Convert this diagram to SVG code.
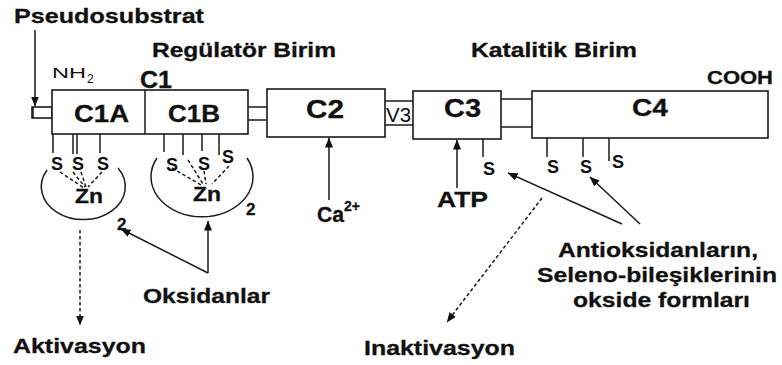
<svg xmlns="http://www.w3.org/2000/svg" width="782" height="365" viewBox="0 0 782 365">
<defs>
<marker id="ah" viewBox="0 0 10 8" refX="9.5" refY="4" markerWidth="10" markerHeight="8" markerUnits="userSpaceOnUse" orient="auto">
<path d="M0,0 L10,4 L0,8 Z" fill="#111"/>
</marker>
<style>
.b{fill:#fff;stroke:#1a1a1a;stroke-width:1.6}
.l{fill:none;stroke:#1a1a1a;stroke-width:1.5}
.d{fill:none;stroke:#1a1a1a;stroke-width:1.5;stroke-dasharray:3.5 2.5}
.t{font-family:"Liberation Sans",Arial,sans-serif;font-weight:bold;fill:#111;stroke:#111;stroke-width:0.3}
.n{font-family:"Liberation Sans",Arial,sans-serif;fill:#111}
.s{font-family:"Liberation Sans",Arial,sans-serif;font-weight:bold;fill:#111;font-size:18px}
</style>
</defs>
<rect width="782" height="365" fill="#fff"/>

<g id="labels">
<text class="t" x="14" y="23" font-size="21" textLength="190" lengthAdjust="spacingAndGlyphs">Pseudosubstrat</text>
<text class="t" x="152" y="57" font-size="20" textLength="184" lengthAdjust="spacingAndGlyphs">Regülatör Birim</text>
<text class="t" x="471" y="57" font-size="20" textLength="166" lengthAdjust="spacingAndGlyphs">Katalitik Birim</text>
<text class="n" x="52" y="78" font-size="15" textLength="34" lengthAdjust="spacingAndGlyphs">NH</text>
<text class="n" x="87" y="83" font-size="12">2</text>
<text class="t" x="140" y="88" font-size="23" textLength="32" lengthAdjust="spacingAndGlyphs">C1</text>
<text class="t" x="707" y="84" font-size="18" textLength="66" lengthAdjust="spacingAndGlyphs">COOH</text>
</g>

<g id="connectors">
<line class="l" x1="248" y1="107" x2="268" y2="107"/>
<line class="l" x1="248" y1="120" x2="268" y2="120"/>
<line class="l" x1="385" y1="101" x2="413" y2="101"/>
<line class="l" x1="385" y1="125" x2="413" y2="125"/>
<line class="l" x1="501" y1="99" x2="532" y2="99"/>
<line class="l" x1="501" y1="127" x2="532" y2="127"/>
<line class="l" x1="35" y1="30" x2="35" y2="106" marker-end="url(#ah)"/>
<line class="l" x1="329" y1="200" x2="329" y2="138" marker-end="url(#ah)"/>
<line class="l" x1="457" y1="188" x2="457" y2="140" marker-end="url(#ah)"/>
<line class="l" x1="208" y1="273" x2="208" y2="221" marker-end="url(#ah)"/>
<line class="l" x1="208" y1="273" x2="121" y2="229" marker-end="url(#ah)"/>
<line class="l" x1="622" y1="224" x2="508" y2="173" marker-end="url(#ah)"/>
<line class="l" x1="640" y1="224" x2="590" y2="177" marker-end="url(#ah)"/>
<line class="d" x1="80" y1="230" x2="80" y2="325" marker-end="url(#ah)"/>
<line class="d" x1="542" y1="198" x2="447" y2="322" marker-end="url(#ah)"/>
</g>

<g id="pseudosubstrate">
<rect class="b" x="32" y="107" width="20" height="11"/>
<line class="l" x1="33" y1="107" x2="33" y2="118" stroke-width="3"/>
</g>

<g id="C1">
<rect class="b" x="52" y="90" width="196" height="44"/>
<line class="l" x1="145" y1="90" x2="145" y2="134"/>
<text class="t" x="74" y="122" font-size="23" textLength="55" lengthAdjust="spacingAndGlyphs">C1A</text>
<text class="t" x="168" y="122" font-size="23" textLength="52" lengthAdjust="spacingAndGlyphs">C1B</text>
</g>

<g id="zn1">
<line class="l" x1="53" y1="134" x2="53" y2="153"/>
<line class="l" x1="73" y1="134" x2="73" y2="154"/>
<line class="l" x1="77" y1="134" x2="77" y2="154"/>
<line class="l" x1="100" y1="134" x2="100" y2="153"/>
<text class="s" x="51" y="170">S</text>
<text class="s" x="72" y="170">S</text>
<text class="s" x="97" y="170">S</text>
<line class="d" x1="60" y1="172" x2="84" y2="188"/>
<line class="d" x1="73" y1="172" x2="85" y2="187"/>
<line class="d" x1="81" y1="172" x2="86" y2="187"/>
<line class="d" x1="102" y1="172" x2="88" y2="187"/>
<text class="t" x="75" y="203" font-size="20" textLength="28" lengthAdjust="spacingAndGlyphs">Zn</text>
<path class="l" d="M47,170 A42,33 0 1 0 118,168"/>
<text class="t" x="117" y="230" font-size="17">2</text>
</g>

<g id="zn2">
<line class="l" x1="164" y1="134" x2="164" y2="152"/>
<line class="l" x1="183" y1="134" x2="183" y2="155"/>
<line class="l" x1="202" y1="134" x2="202" y2="151"/>
<line class="l" x1="219" y1="134" x2="219" y2="155"/>
<text class="s" x="166" y="171">S</text>
<text class="s" x="198" y="170">S</text>
<text class="s" x="222" y="163">S</text>
<line class="d" x1="172" y1="168" x2="201" y2="185"/>
<line class="d" x1="188" y1="160" x2="203" y2="184"/>
<line class="d" x1="204" y1="171" x2="206" y2="184"/>
<line class="d" x1="229" y1="166" x2="212" y2="184"/>
<text class="t" x="193" y="201" font-size="20" textLength="28" lengthAdjust="spacingAndGlyphs">Zn</text>
<path class="l" d="M157,158 A51,40 0 1 0 247,158"/>
<text class="t" x="246" y="215" font-size="17">2</text>
</g>

<g id="C2">
<rect class="b" x="267" y="89" width="118" height="48"/>
<text class="t" x="306" y="118" font-size="26" textLength="38" lengthAdjust="spacingAndGlyphs">C2</text>
</g>

<g id="V3">
<text class="n" x="386" y="122" font-size="20" textLength="25" lengthAdjust="spacingAndGlyphs">V3</text>
</g>

<g id="C3">
<rect class="b" x="413" y="91" width="88" height="48"/>
<text class="t" x="444" y="117" font-size="25" textLength="37" lengthAdjust="spacingAndGlyphs">C3</text>
<line class="l" x1="483" y1="139" x2="483" y2="157"/>
<text class="s" x="483" y="175">S</text>
</g>

<g id="C4">
<rect class="b" x="532" y="91" width="236" height="47"/>
<text class="t" x="632" y="116" font-size="24" textLength="36" lengthAdjust="spacingAndGlyphs">C4</text>
<line class="l" x1="547" y1="138" x2="547" y2="157"/>
<line class="l" x1="583" y1="138" x2="583" y2="157"/>
<line class="l" x1="609" y1="138" x2="609" y2="161"/>
<text class="s" x="547" y="173">S</text>
<text class="s" x="580" y="173">S</text>
<text class="s" x="612" y="168">S</text>
</g>

<g id="ca">
<text class="t" x="317" y="222" font-size="22" textLength="27" lengthAdjust="spacingAndGlyphs">Ca</text>
<text class="t" x="344" y="211" font-size="14">2+</text>
</g>

<g id="atp">
<text class="t" x="437" y="207" font-size="22" textLength="51" lengthAdjust="spacingAndGlyphs">ATP</text>
</g>

<g id="oksidanlar">
<text class="t" x="143" y="303" font-size="21" textLength="127" lengthAdjust="spacingAndGlyphs">Oksidanlar</text>
</g>

<g id="aktivasyon">
<text class="t" x="13" y="353" font-size="21" textLength="133" lengthAdjust="spacingAndGlyphs">Aktivasyon</text>
</g>

<g id="inaktivasyon">
<text class="t" x="364" y="355" font-size="21" textLength="151" lengthAdjust="spacingAndGlyphs">Inaktivasyon</text>
</g>

<g id="antioksidan">
<text class="t" x="558" y="257" font-size="21" textLength="200" lengthAdjust="spacingAndGlyphs">Antioksidanların,</text>
<text class="t" x="537" y="282" font-size="21" textLength="240" lengthAdjust="spacingAndGlyphs">Seleno-bileşiklerinin</text>
<text class="t" x="573" y="307" font-size="21" textLength="177" lengthAdjust="spacingAndGlyphs">okside formları</text>
</g>
</svg>
